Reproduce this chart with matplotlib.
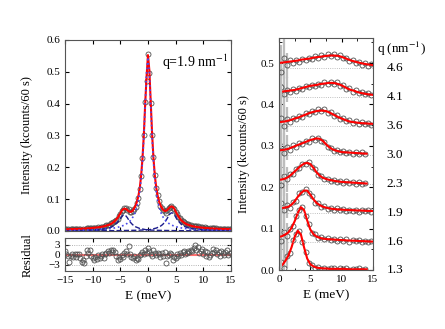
import numpy as np
import matplotlib.pyplot as plt
import matplotlib.transforms as mtransforms
from matplotlib.ticker import MultipleLocator

plt.rcParams['font.family'] = 'serif'
plt.rcParams['font.serif'] = ['Liberation Serif', 'DejaVu Serif']
plt.rcParams['mathtext.fontset'] = 'stix'

# ---- left panel: spectrum at q = 1.9 nm^-1 ----
e_data = np.arange(-15, 15.001, 0.25)
intensity = [
    .0064, .0056, .0049, .0029, .0053, .0063, .0053, .0062, .0052, .0066,
    .0067, .0056, .0043, .0054, .0045, .0073, .0097, .0091, .0104, .0085,
    .0083, .0079, .0094, .0091, .0111, .0106, .0121, .0139, .0132, .0158,
    .0174, .0195, .0201, .0236, .0253, .0295, .0326, .0347, .0380, .0464,
    .0525, .0630, .0667, .0713, .0712, .0667, .0675, .0605, .0591, .0613,
    .0704, .0754, .0880, .1040, .1313, .1725, .2300, .3007, .4040, .4700,
    .5560, .4970, .4020, .3020, .2320, .1750, .1345, .1115, .0932, .0795,
    .0735, .0656, .0637, .0575, .0655, .0710, .0758, .0775, .0722, .0688,
    .0595, .0533, .0450, .0395, .0334, .0303, .0274, .0236, .0218, .0210,
    .0188, .0183, .0164, .0165, .0171, .0144, .0146, .0122, .0124, .0123,
    .0104, .0109, .0089, .0097, .0074, .0079, .0085, .0094, .0084, .0087,
    .0072, .0076, .0060, .0076, .0068, .0060, .0072, .0076, .0058, .0063,
    .0061]
residual = [
    1.0, 0.2, -0.5, -2.3, -0.4, 0.3, -0.6, 0.1, -0.8, 0.2,
    0.1, -1.0, -2.2, -1.5, -2.5, -0.3, 1.4, 0.6, 1.4, -0.5,
    -1.0, -1.7, -0.8, -1.4, -0.2, -1.1, -0.5, 0.3, -0.9, 0.2,
    0.5, 1.0, 0.4, 1.3, 0.8, 1.5, 0.9, -0.4, -1.5, -0.8,
    -1.2, 0.0, -0.6, 0.6, 1.0, 0.3, 2.5, 0.2, -0.6, -1.1,
    -0.4, -1.6, -1.0, -1.3, -0.2, 0.3, 0.9, 0.1, 1.3, 0.5,
    2.0, 1.0, 0.3, -0.3, 1.5, 0.4, -0.2, 0.6, 0.1, -0.7,
    0.4, -0.3, 0.8, -2.5, -0.5, 0.0, 0.6, 0.3, -1.5, -0.6,
    -0.9, 0.2, -0.4, 0.4, -0.2, 0.8, 1.0, 0.1, 0.6, 1.2,
    0.7, 1.5, 1.0, 2.0, 3.0, 1.4, 2.2, 0.6, 1.2, 1.6,
    0.3, 1.0, -0.3, 0.8, -0.8, -0.2, 0.5, 1.6, 0.9, 1.3,
    0.2, 0.8, -0.4, 1.0, 0.4, -0.2, 0.9, 1.3, 0.0, 0.6,
    0.5]

e_fit = [-15, -14, -13, -12, -11, -10, -9, -8, -7, -6.5, -6, -5.5, -5,
         -4.75, -4.5, -4.25, -4, -3.75, -3.5, -3.25, -3, -2.75, -2.5, -2.25,
         -2, -1.75, -1.5, -1.25, -1, -0.75, -0.5, -0.25, 0,
         0.25, 0.5, 0.75, 1, 1.25, 1.5, 1.75, 2, 2.25, 2.5, 2.75, 3, 3.25,
         3.5, 3.75, 4, 4.25, 4.5, 4.75, 5, 5.5, 6, 6.5, 7, 8, 9, 10, 11, 12,
         13, 14, 15]
fit_total = [
    .0052, .0058, .0062, .0070, .0080, .0095, .0113, .0143, .0195, .024,
    .031, .041, .055, .063, .068, .070, .069, .066, .062, .060, .0605, .064,
    .0714, .0796, .091, .108, .132, .171, .225, .300, .400, .485,
    .552,
    .505, .405, .304, .227, .173, .135, .111, .093, .081, .073,
    .066, .063, .063, .066, .071, .075, .077, .075, .070, .061,
    .0455, .0336, .0262, .021, .0152, .012, .0101, .0084, .0074, .0065,
    .0062, .0055]
fit_central = [
    .0016, .0018, .0021, .0024, .0029, .0035, .0043, .0054, .0071, .0082,
    .0096, .0114, .0137, .0152, .0169, .0188, .0212, .0239, .0273, .0314,
    .0365, .0429, .0511, .0617, .0759, .0951, .1218, .1598, .2146, .2927,
    .3955, .501,
    .545,
    .501, .3955, .2927, .2146, .1598, .1218, .0951, .0759, .0617, .0511,
    .0429, .0365, .0314, .0273, .0239, .0212, .0188, .0169, .0152, .0137,
    .0114, .0096, .0082, .0071, .0054, .0043, .0035, .0029, .0024, .0021,
    .0018, .0016]
fit_side_pos = [
    .0003, .0003, .0004, .0004, .0005, .0006, .0007, .0008, .0009, .0010,
    .0010, .0011, .0012, .0013, .0014, .0015, .0015, .0016, .0017, .0017,
    .0018, .0020, .0020, .0021, .0022, .0024, .0025, .0027, .0028, .0030,
    .0030, .0035,
    .0040,
    .004, .005, .006, .007, .008, .009, .011, .013, .015, .018,
    .022, .027, .033, .040, .048, .054, .057, .056, .051, .044,
    .031, .021, .015, .011, .007, .005, .004, .003, .0025, .002,
    .002, .0015]
fit_side_neg = [
    .0013, .0018, .0018, .0022, .0026, .0035, .0044, .0062, .0097, .0132,
    .0185, .0273, .0387, .0449, .0493, .0502, .0475, .0422, .0352, .0290,
    .0238, .0194, .0158, .0132, .0114, .0097, .0079, .0070, .0062, .0053,
    .0044, .0035,
    .0035,
    .0030, .0026, .0026, .0025, .0024, .0022, .0021, .0019, .0018, .0018,
    .0017, .0016, .0015, .0015, .0014, .0013, .0013, .0012, .0011, .0011,
    .0010, .0009, .0009, .0008, .0007, .0006, .0005, .0004, .0004, .0003,
    .0003, .0003]

# ---- right panel: stacked inelastic spectra ----
q_labels = ['1.3', '1.6', '1.9', '2.3', '3.0', '3.6', '4.1', '4.6']
offsets = [0, 0.068, 0.138, 0.207, 0.277, 0.347, 0.417, 0.487]
err_low = [0.065, 0.05, 0.03]

fit_13 = [.006, .012, .022, .035, .055, .080, .095, .086, .055, .028, .014,
          .009, .006, .005, .004, .004, .003, .003, .003, .003, .003, .003,
          .002, .002, .002, .002, .002, .002, .002]
fit_16 = [.080, .082, .086, .091, .102, .118, .138, .152, .145, .120, .098,
          .087, .081, .078, .076, .075, .0745, .074, .0735, .073, .0725, .072,
          .0715, .071, .071, .0705, .070, .070, .0695, .069, .069]
fit_19 = [.149, .150, .151, .153, .158, .166, .177, .186, .192, .192, .182,
          .171, .162, .157, .153, .151, .149, .148, .147, .1465, .146, .1455,
          .145, .1448, .1445, .144, .144, .1435, .143, .143, .1425]
fit_23 = [.218, .219, .221, .225, .231, .238, .245, .252, .257, .259, .256,
          .247, .236, .228, .223, .220, .218, .2165, .215, .214, .213, .2125,
          .212, .2115, .211, .2105, .210, .2095, .209]
fit_30 = [.289, .290, .291, .293, .296, .299, .302, .305, .308, .311, .314,
          .316, .318, .317, .312, .304, .297, .292, .289, .287, .285, .2845,
          .284, .2835, .283, .2825, .282, .2815, .281]
fit_36 = [.357, .358, .359, .361, .363, .366, .368, .371, .374, .377, .380,
          .382, .384, .385, .385, .384, .381, .377, .373, .369, .366, .363,
          .360, .358, .357, .356, .355, .3545, .354, .3535, .353]
fit_41 = [.430, .431, .432, .433, .434, .435, .437, .439, .441, .443, .445,
          .446, .447, .449, .450, .451, .452, .452, .451, .449, .446, .442,
          .438, .435, .433, .430, .428, .4265, .425, .424, .423]
fit_46 = [.500, .501, .502, .503, .504, .505, .506, .508, .509, .510, .511,
          .513, .514, .515, .516, .517, .518, .518, .518, .517, .515, .512,
          .509, .506, .504, .502, .500, .4985, .497, .496, .495]

data_13 = [.020, .004, .035, .041, .072, .086, .095, .068, .044, .018,
           .013, .005, .007, .003, .006, .002, .004, .005, .001, .004,
           .002, .004, .001, .003, .002, .004, .001, .003]
data_16 = [.070, .092, .083, .099, .107, .131, .145, .153, .130, .111,
           .090, .086, .077, .079, .074, .077, .072, .076, .071, .075,
           .070, .074, .069, .073, .070, .072, .068, .071, .067, .070]
data_19 = [.162, .146, .157, .151, .165, .168, .185, .188, .196, .186,
           .179, .163, .161, .153, .154, .148, .151, .146, .149, .144,
           .147, .143, .146, .142, .146, .141, .145, .142, .144, .140]
data_23 = [.205, .228, .219, .231, .232, .244, .246, .257, .256, .261,
           .249, .244, .229, .227, .219, .221, .215, .218, .212, .215,
           .211, .214, .210, .213, .209, .212, .208, .211]
data_30 = [.300, .282, .297, .291, .301, .298, .307, .304, .312, .310,
           .318, .315, .320, .312, .310, .298, .296, .288, .290, .284,
           .287, .282, .286, .281, .285, .280, .284, .280]
data_36 = [.368, .349, .364, .358, .368, .364, .373, .370, .379, .376,
           .384, .381, .388, .383, .388, .380, .382, .372, .374, .365,
           .367, .359, .362, .355, .359, .353, .357, .352, .356, .351]
data_41 = [.441, .425, .436, .430, .437, .433, .440, .437, .444, .441,
           .448, .444, .450, .447, .453, .449, .455, .450, .453, .445,
           .447, .438, .440, .431, .434, .427, .430, .424, .427, .422]
data_46 = [.478, .512, .495, .507, .501, .508, .503, .510, .507, .513,
           .510, .516, .512, .519, .515, .521, .516, .522, .515, .519,
           .511, .513, .505, .507, .500, .503, .496, .499, .494, .497]

fits = [fit_13, fit_16, fit_19, fit_23, fit_30, fit_36, fit_41, fit_46]
datas = [data_13, data_16, data_19, data_23, data_30, data_36, data_41, data_46]

circ = dict(marker='o', ls='none', ms=3.6, mfc='none', mec='#505050', mew=0.6)

fig = plt.figure(figsize=(4.45, 3.29), dpi=100)
ax = fig.add_axes([0.146, 0.298, 0.373, 0.581])
ax_res = fig.add_axes([0.146, 0.176, 0.373, 0.100])
ax_r = fig.add_axes([0.627, 0.179, 0.211, 0.705])

# main spectrum
ax.plot(e_data, intensity, **circ)
ax.plot(e_fit, fit_side_neg, ls='--', color='#1c1c8c', lw=1.0)
ax.plot(e_fit, fit_side_pos, ls='--', color='#1c1c8c', lw=1.0)
ax.plot(e_fit, fit_total, color='red', lw=1.5)
ax.plot(e_fit, fit_central, ls=':', color='#4a4ae8', lw=1.2)
ax.set_xlim(-15, 15)
ax.set_ylim(0, 0.6)
ax.set_yticks(np.arange(0, 0.61, 0.1))
ax.yaxis.set_major_formatter(plt.FormatStrFormatter('%.1f'))
ax.set_xticks(np.arange(-15, 16, 5))
ax.tick_params(labelbottom=False)
ax.set_ylabel('Intensity (kcounts/60 s)', fontsize=9)
ax.yaxis.set_label_coords(-0.19, 0.5)
ax.text(2.6, 0.53, 'q=1.9 nm$^{-1}$', fontsize=10, va='center')

# residuals
ax_res.axhline(3, ls=':', color='#999999', lw=0.6)
ax_res.axhline(-3, ls=':', color='#999999', lw=0.6)
ax_res.axhline(0, color='#ff7070', lw=1.5)
ax_res.plot(e_data, residual, **circ)
ax_res.set_xlim(-15, 15)
ax_res.set_ylim(-5, 5)
ax_res.set_yticks([-3, 0, 3])
ax_res.set_xticks(np.arange(-15, 16, 5))
ax_res.set_ylabel('Residual', fontsize=9)
ax_res.yaxis.set_label_coords(-0.19, 0.5)
ax_res.set_xlabel('E (meV)', fontsize=9.5)

# stacked spectra
trans = mtransforms.blended_transform_factory(ax_r.transAxes, ax_r.transData)
for k in range(len(q_labels)):
    e_f = np.arange(len(fits[k])) * 0.5
    e_d = 0.25 + np.arange(len(datas[k])) * 0.5
    if k > 0:
        ax_r.axhline(offsets[k], ls=':', color='#aaaaaa', lw=0.6)
    ax_r.errorbar(e_d[:3], datas[k][:3], yerr=err_low, fmt='none',
                  ecolor='#bdbdbd', elinewidth=1.6)
    ax_r.plot(e_d, datas[k], **circ)
    ax_r.plot(e_f, fits[k], color='red', lw=1.5)
    ax_r.text(1.235, offsets[k], q_labels[k], transform=trans,
              ha='center', va='center', fontsize=9.5)
ax_r.text(1.04, 0.535, 'q (nm$^{-1}$)', transform=trans, ha='left',
          va='center', fontsize=9.5)
ax_r.set_xlim(0, 15)
ax_r.set_ylim(0, 0.56)
ax_r.set_xticks([0, 5, 10, 15])
ax_r.xaxis.set_minor_locator(MultipleLocator(2.5))
ax_r.set_yticks(np.arange(0, 0.51, 0.1))
ax_r.yaxis.set_minor_locator(MultipleLocator(0.05))
ax_r.yaxis.set_major_formatter(plt.FormatStrFormatter('%.1f'))
ax_r.set_ylabel('Intensity (kcounts/60 s)', fontsize=9)
ax_r.yaxis.set_label_coords(-0.31, 0.5)
ax_r.set_xlabel('E (meV)', fontsize=9.5)

for a in (ax, ax_res, ax_r):
    a.tick_params(which='both', direction='in', top=True, right=True,
                  labelsize=8)
    a.tick_params(which='major', length=3)
    a.tick_params(which='minor', length=1.8)
    for s in a.spines.values():
        s.set_color('#555555')
        s.set_linewidth(0.8)

fig.savefig('out.png', dpi=100)
